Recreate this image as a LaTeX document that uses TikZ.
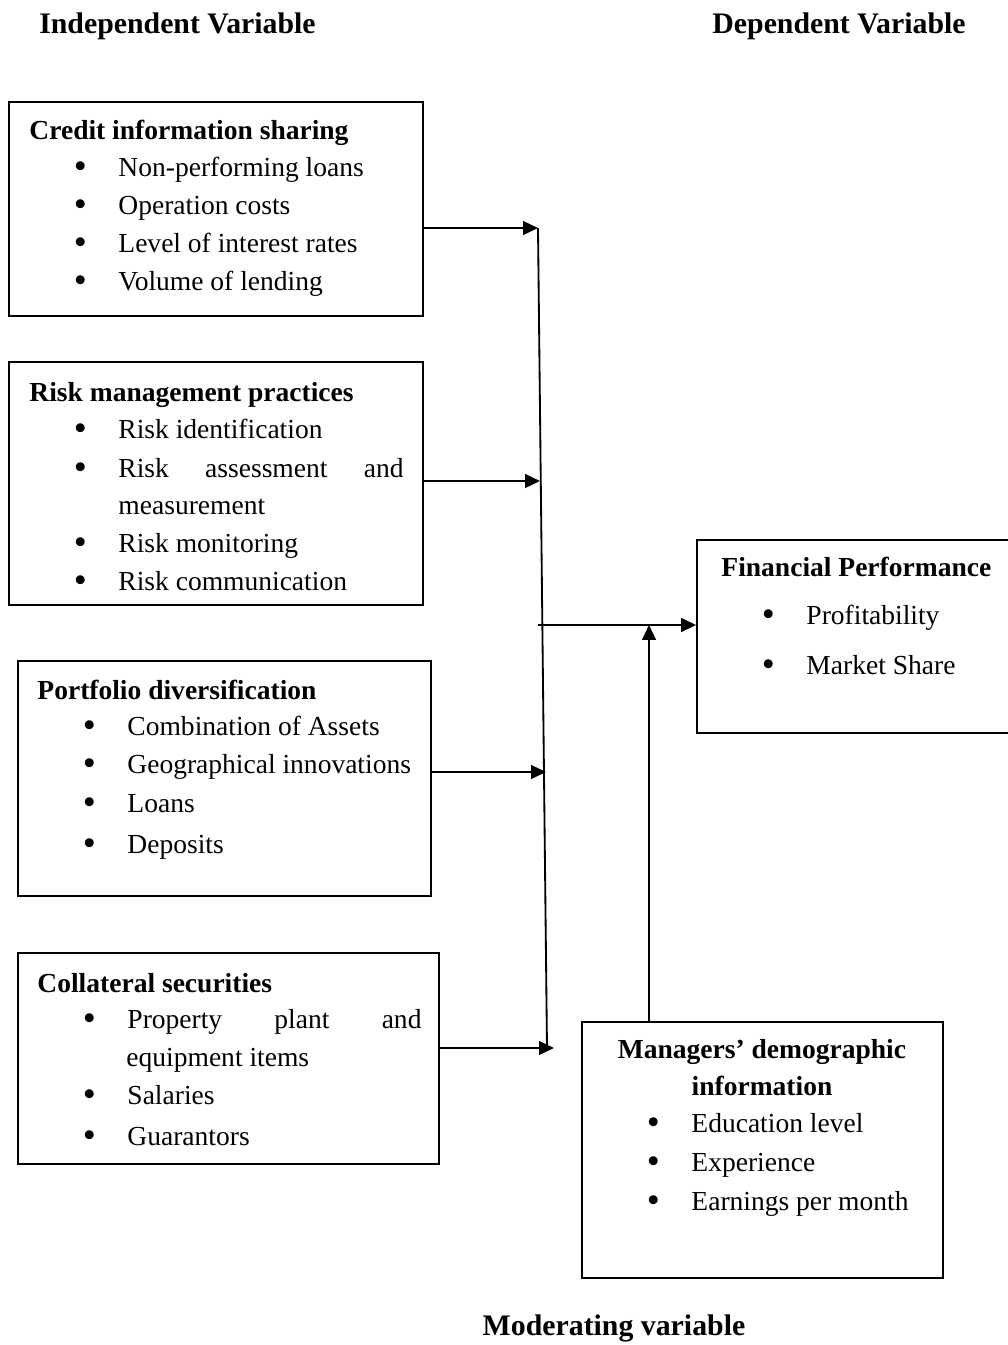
\documentclass[tikz,border=0pt]{standalone}
\usepackage{fontspec}
\setmainfont{Liberation Serif}
\usetikzlibrary{arrows.meta,fit,positioning}
\newcommand{\bul}{\makebox[18.75pt][l]{\hspace{-0.7pt}\smash{\raisebox{-0.9pt}{\scalebox{1.35}{\textbullet}}}}}

\begin{document}
\begin{tikzpicture}[x=0.436pt, y=-0.436pt,
    every node/.style={font=\fontsize{12}{14}\selectfont},
    box/.style={draw, line width=0.8pt, inner sep=0pt},
    txt/.style={anchor=base west, inner sep=0pt},
    ttl/.style={txt, font=\fontsize{12}{14}\selectfont\bfseries},
    hdr/.style={anchor=base, inner sep=0pt, font=\fontsize{13}{15}\selectfont\bfseries},
    arr/.style={line width=0.8pt, -{Triangle[length=6.5pt, width=6pt]}}]
    \useasboundingbox (0,0) rectangle (1008,1345);

    % headings
    \node[hdr] (iv) at (177.5,33) {Independent Variable};
    \node[hdr] (dv) at (839,33) {Dependent Variable};
    \node[hdr] (mv) at (614,1335) {Moderating variable};

    % boxes
    \node[box, fit={(9,102) (423,316)}] (cis) {};
    \node[box, fit={(9,362) (423,605)}] (rmp) {};
    \node[box, fit={(18,661) (431,896)}] (pd) {};
    \node[box, fit={(18,953) (439,1164)}] (cs) {};
    \node[box, fit={(697,540) (1009,733)}] (fp) {};
    \node[box, fit={(582,1022) (943,1278)}] (mdi) {};

    % credit information sharing
    \node[ttl] (cis-t) at (29,139) {Credit information sharing};
    \node[txt] (cis-1) at (75,176) {\bul Non-performing loans};
    \node[txt] (cis-2) at (75,214) {\bul Operation costs};
    \node[txt] (cis-3) at (75,252) {\bul Level of interest rates};
    \node[txt] (cis-4) at (75,290) {\bul Volume of lending};

    % risk management practices
    \node[ttl] (rmp-t) at (29,401) {Risk management practices};
    \node[txt] (rmp-1) at (75,438) {\bul Risk identification};
    \node[txt] (rmp-2) at (75,477) {\bul\hbox to 124.3pt{Risk\hfill assessment\hfill and}};
    \node[txt] (rmp-2b) at (118,514) {measurement};
    \node[txt] (rmp-3) at (75,552) {\bul Risk monitoring};
    \node[txt] (rmp-4) at (75,590) {\bul Risk communication};

    % portfolio diversification
    \node[ttl] (pd-t) at (37,699) {Portfolio diversification};
    \node[txt] (pd-1) at (84,735) {\bul Combination of Assets};
    \node[txt] (pd-2) at (84,773) {\bul Geographical innovations};
    \node[txt] (pd-3) at (84,812) {\bul Loans};
    \node[txt] (pd-4) at (84,853) {\bul Deposits};

    % collateral securities
    \node[ttl] (cs-t) at (37,992) {Collateral securities};
    \node[txt] (cs-1) at (84,1028) {\bul\hbox to 128.2pt{Property\hfill plant\hfill and}};
    \node[txt] (cs-1b) at (126,1066) {equipment items};
    \node[txt] (cs-2) at (84,1104) {\bul Salaries};
    \node[txt] (cs-3) at (84,1145) {\bul Guarantors};

    % financial performance
    \node[ttl] (fp-t) at (721,576) {Financial Performance};
    \node[txt] (fp-1) at (763,624) {\bul Profitability};
    \node[txt] (fp-2) at (763,674) {\bul Market Share};

    % managers' demographic information
    \node[ttl, anchor=base] (mdi-t) at (762,1058) {Managers’ demographic};
    \node[ttl, anchor=base] (mdi-t2) at (762,1095) {information};
    \node[txt] (mdi-1) at (648,1132) {\bul Education level};
    \node[txt] (mdi-2) at (648,1171) {\bul Experience};
    \node[txt] (mdi-3) at (648,1210) {\bul Earnings per month};

    % connectors
    \coordinate (top) at (538,228);
    \coordinate (bot) at (547,1048);
    \coordinate (in2) at (540,481);
    \coordinate (in3) at (546,772);
    \coordinate (in4) at (554,1048);
    \coordinate (out) at (538,625);
    \coordinate (mod) at (649,625);
    \draw[line width=0.8pt] (top) -- (bot);
    \draw[arr] (cis.east |- top) -- (top);
    \draw[arr] (rmp.east |- in2) -- (in2);
    \draw[arr] (pd.east |- in3) -- (in3);
    \draw[arr] (cs.east |- in4) -- (in4);
    \draw[arr] (out) -- (fp.west |- out);
    \draw[arr] (mdi.north -| mod) -- (mod);
\end{tikzpicture}
\end{document}
